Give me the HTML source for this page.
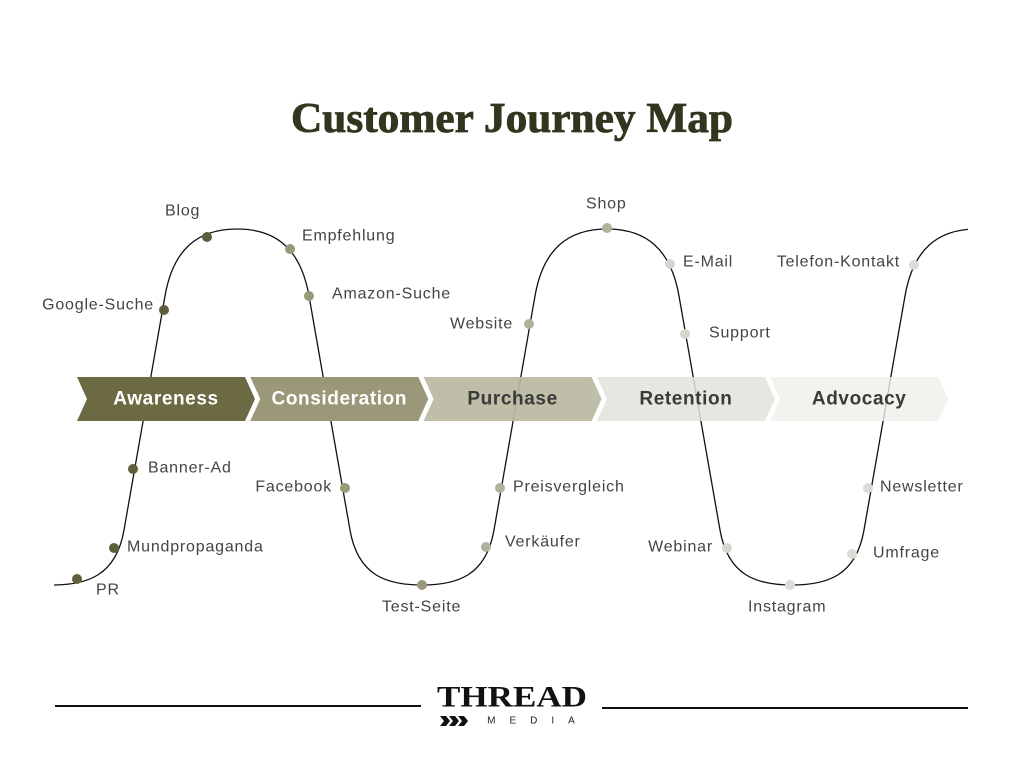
<!DOCTYPE html>
<html><head><meta charset="utf-8"><style>
html,body{margin:0;padding:0;background:#fff;}
svg{display:block;}
.l{font-family:"Liberation Sans",sans-serif;font-size:16px;letter-spacing:0.8px;fill:#444;dominant-baseline:central;}
.c{font-family:"Liberation Sans",sans-serif;font-size:19px;letter-spacing:0.6px;font-weight:bold;text-anchor:middle;dominant-baseline:central;}
</style></head><body>
<svg width="1024" height="768" viewBox="0 0 1024 768" xmlns="http://www.w3.org/2000/svg">
<rect width="1024" height="768" fill="#fff"/>
<text x="512" y="119" text-anchor="middle" dominant-baseline="central" font-family="Liberation Serif, serif" font-weight="bold" font-size="42" fill="#33351f" stroke="#33351f" stroke-width="0.8" textLength="442" lengthAdjust="spacingAndGlyphs">Customer Journey Map</text>
<defs><clipPath id="cp"><rect x="54" y="0" width="914" height="768"/></clipPath></defs>
<path id="curve" clip-path="url(#cp)" fill="none" stroke="#111" stroke-width="1.3" d=""/>
<g id="chev"></g>
<g id="dots"></g>
<text class="l" x="165" y="211">Blog</text>
<text class="l" x="302" y="236">Empfehlung</text>
<text class="l" x="332" y="294">Amazon-Suche</text>
<text class="l" x="154" y="305" text-anchor="end">Google-Suche</text>
<text class="l" x="450" y="324">Website</text>
<text class="l" x="586" y="204">Shop</text>
<text class="l" x="683" y="262">E-Mail</text>
<text class="l" x="709" y="333">Support</text>
<text class="l" x="900" y="262" text-anchor="end">Telefon-Kontakt</text>
<text class="l" x="148" y="468">Banner-Ad</text>
<text class="l" x="332" y="487" text-anchor="end">Facebook</text>
<text class="l" x="513" y="487">Preisvergleich</text>
<text class="l" x="127" y="547">Mundpropaganda</text>
<text class="l" x="505" y="542">Verkäufer</text>
<text class="l" x="713" y="547" text-anchor="end">Webinar</text>
<text class="l" x="880" y="487">Newsletter</text>
<text class="l" x="873" y="553">Umfrage</text>
<text class="l" x="96" y="590">PR</text>
<text class="l" x="382" y="607">Test-Seite</text>
<text class="l" x="748" y="607">Instagram</text>
<line x1="55" y1="706" x2="421" y2="706" stroke="#111" stroke-width="2"/>
<line x1="602" y1="708" x2="968" y2="708" stroke="#111" stroke-width="2"/>
<text x="512" y="697" text-anchor="middle" dominant-baseline="central" font-family="Liberation Serif, serif" font-weight="bold" font-size="30" fill="#111" textLength="150" lengthAdjust="spacingAndGlyphs">THREAD</text>
<text x="538" y="721" text-anchor="middle" dominant-baseline="central" font-family="Liberation Sans, sans-serif" font-size="10" fill="#222" letter-spacing="14">MEDIA</text>
<g fill="#111">
<polygon points="440,716 446,716 450,721 446,726 440,726 444,721"/>
<polygon points="449,716 455,716 459,721 455,726 449,726 453,721"/>
<polygon points="458,716 464,716 468,721 464,726 458,726 462,721"/>
</g>
</svg>
<script>
(function(){
var d="";
function rise(T){return (d?"":"M"+T+",585")+" C"+(T+35)+",585 "+(T+64)+",576 "+(T+72)+",530 L"+(T+113)+",296 C"+(T+121)+",250 "+(T+145)+",229 "+(T+185)+",229";}
function fall(P){return " C"+(P+40)+",229 "+(P+64)+",250 "+(P+72)+",296 L"+(P+113)+",530 C"+(P+121)+",576 "+(P+150)+",585 "+(P+185)+",585";}
d=rise(52);d+=fall(237);d+=rise(422).replace(/^M[^ ]+/,"");d+=fall(607);d+=rise(792);
document.getElementById("curve").setAttribute("d",d);
var ns="http://www.w3.org/2000/svg";
var ch=[["Awareness","#6b6a43","#fff",1],["Consideration","#9a9879","#fff",1],["Purchase","#b9b9a2","#3a3a36",0.92],["Retention","#e3e3dc","#3a3a36",0.85],["Advocacy","#efefeb","#3a3a36",0.8]];
var g=document.getElementById("chev");
ch.forEach(function(c,i){
 var x=77+i*173.3;
 var p=document.createElementNS(ns,"polygon");
 p.setAttribute("points",[x,377,x+168,377,x+178,399,x+168,421,x,421,x+10,399].join(" ").replace(/(\S+) (\S+)/g,"$1,$2"));
 p.setAttribute("fill",c[1]);p.setAttribute("fill-opacity",c[3]);g.appendChild(p);
 var t=document.createElementNS(ns,"text");t.setAttribute("class","c");t.setAttribute("x",x+89);t.setAttribute("y",399);t.setAttribute("fill",c[2]);t.textContent=c[0];g.appendChild(t);
});
var dots=[[77,579,0],[114,548,0],[133,469,0],[164,310,0],[207,237,0],[290,249,1],[309,296,1],[345,488,1],[422,585,1],[486,547,2],[500,488,2],[529,324,2],[607,228,2],[670,264,3],[685,334,3],[727,548,3],[790,585,4],[852,554,4],[868,488,4],[914,265,4]];
var cols=["#5f5e3c","#9a9879","#b2b29c","#d6d6ce","#dcdcd6"];
var dg=document.getElementById("dots");
dots.forEach(function(o){var c=document.createElementNS(ns,"circle");c.setAttribute("cx",o[0]);c.setAttribute("cy",o[1]);c.setAttribute("r",5);c.setAttribute("fill",cols[o[2]]);dg.appendChild(c);});
})();
</script>
</body></html>
